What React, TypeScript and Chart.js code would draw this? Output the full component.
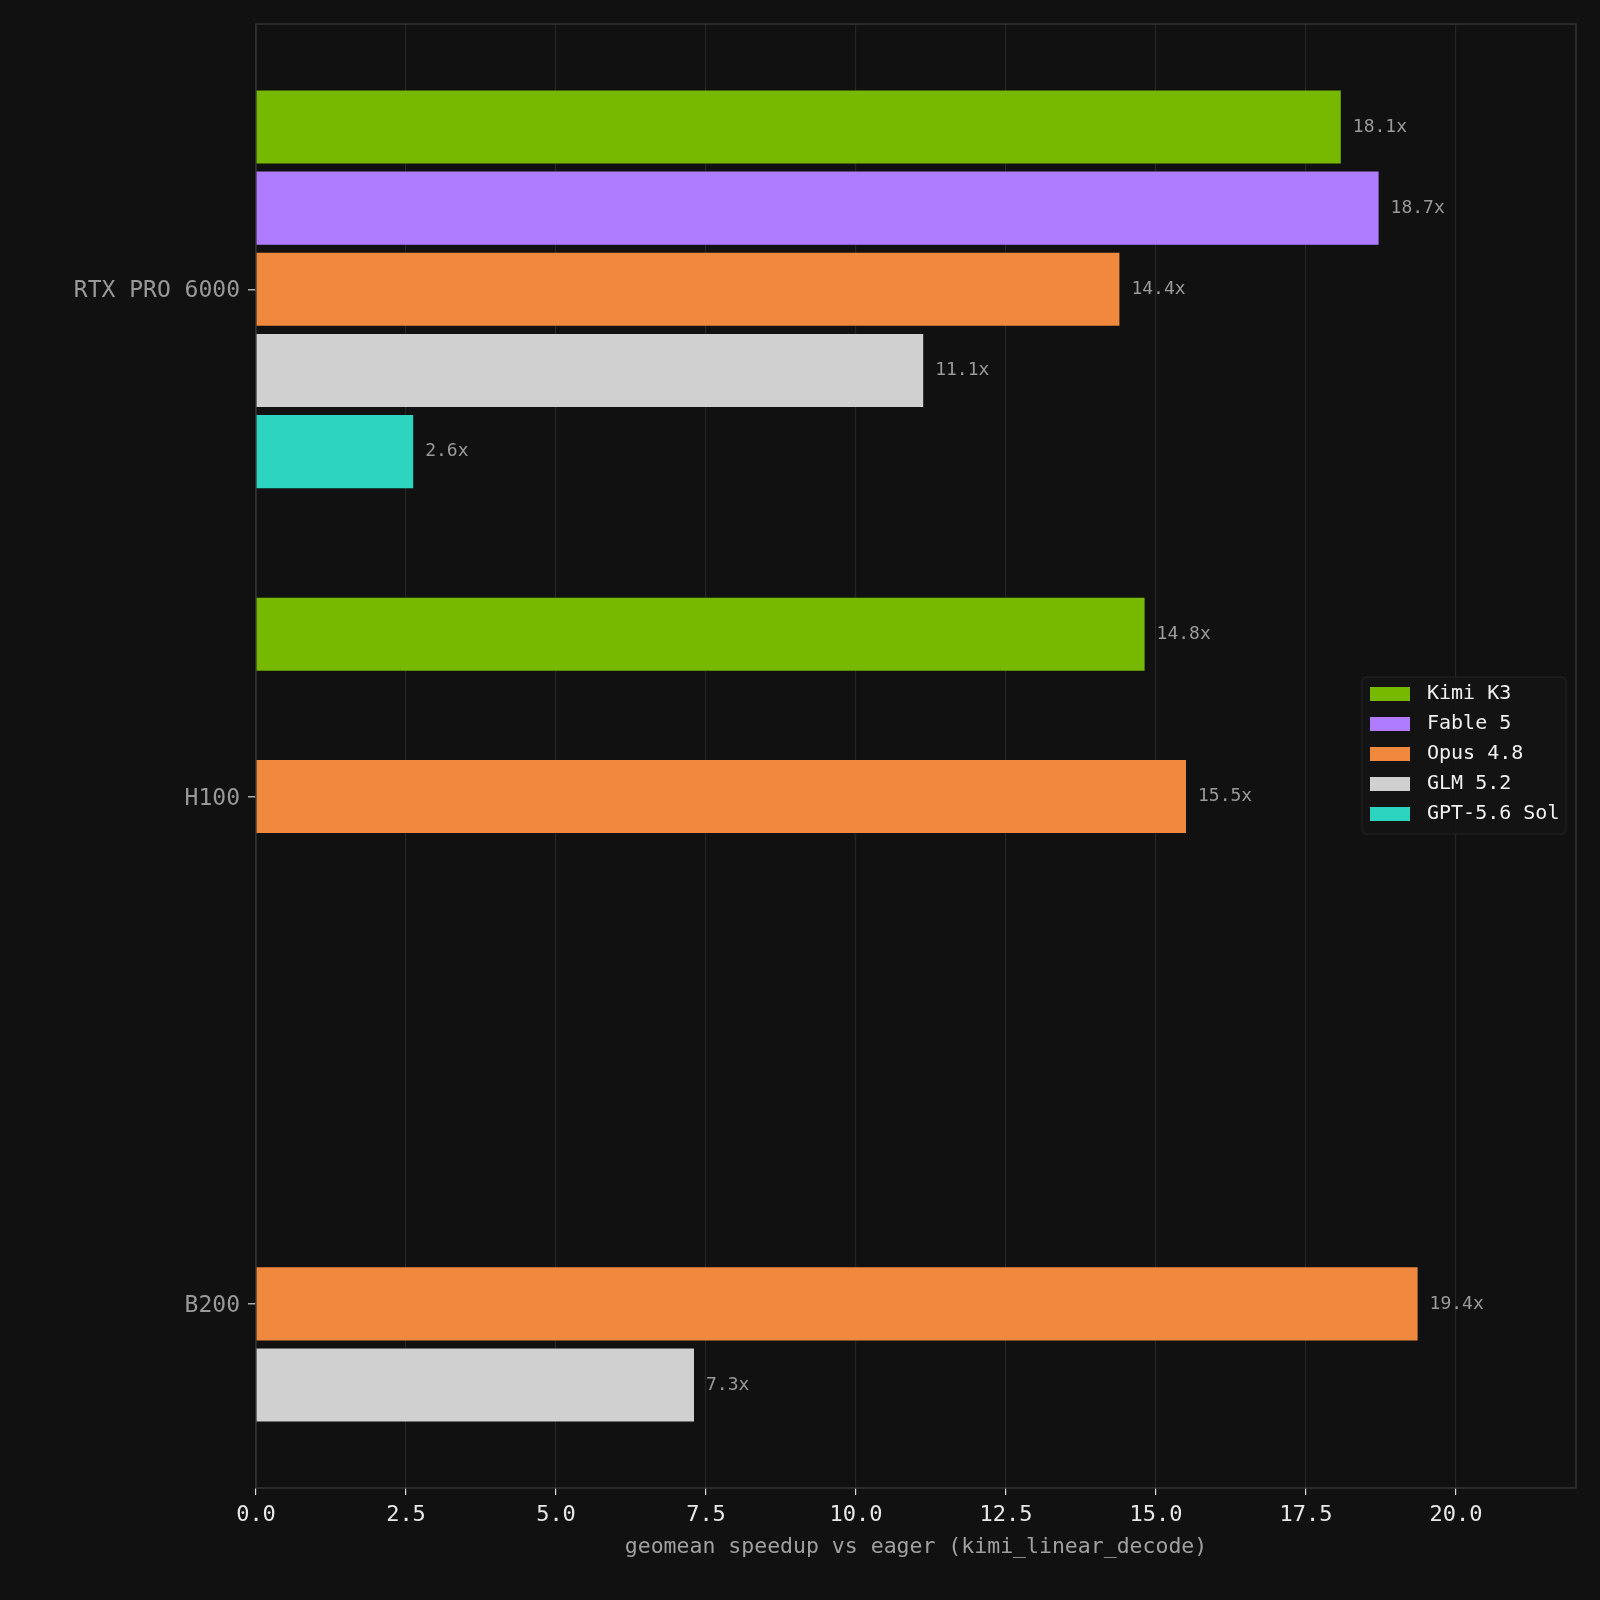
import React, { useEffect, useRef } from "react";
import { Chart, registerables } from "chart.js";

Chart.register(...registerables);

const categories = ["RTX PRO 6000", "H100", "B200"];
const seriesNames = ["Kimi K3", "Fable 5", "Opus 4.8", "GLM 5.2", "GPT-5.6 Sol"];
const seriesColors = ["#76b900", "#b07cff", "#f0893e", "#d0d0d0", "#2dd4bf"];
const kimiK3 = [18.08, 14.81, null];
const fable5 = [18.71, null, null];
const opus48 = [14.39, 15.5, 19.36];
const glm52 = [11.12, null, 7.3];
const gpt56Sol = [2.62, null, null];
const seriesValues = [kimiK3, fable5, opus48, glm52, gpt56Sol];
const xTickValues = [0, 2.5, 5, 7.5, 10, 12.5, 15, 17.5, 20];
const xAxisTitle = "geomean speedup vs eager (kimi_linear_decode)";

const FONT = "'DejaVu Sans Mono', monospace";
const BAR_STEP = 0.16;

export default function App() {
  const ref = useRef<HTMLCanvasElement | null>(null);

  useEffect(() => {
    const canvas = ref.current;
    if (!canvas) return;
    const n = seriesNames.length;
    const datasets = seriesNames.map((name, s) => {
      const offset = (s - (n - 1) / 2) * BAR_STEP;
      const data = categories
        .map((_, i) => {
          const v = seriesValues[s][i];
          return v == null ? null : { x: v, y: i + offset };
        })
        .filter((p) => p !== null);
      return {
        label: name,
        data,
        backgroundColor: seriesColors[s],
        borderWidth: 0,
        grouped: false,
        categoryPercentage: 1,
        barPercentage: 0.9,
      };
    });

    const bgPlugin = {
      id: "bg",
      beforeDraw(chart: any) {
        const ctx = chart.ctx;
        ctx.save();
        ctx.fillStyle = "#111111";
        ctx.fillRect(0, 0, chart.width, chart.height);
        ctx.restore();
      },
      beforeDatasetsDraw(chart: any) {
        const { ctx, chartArea: a } = chart;
        ctx.save();
        ctx.strokeStyle = "#333333";
        ctx.lineWidth = 1.5;
        ctx.strokeRect(a.left, a.top, a.right - a.left, a.bottom - a.top);
        ctx.restore();
      },
      afterDatasetsDraw(chart: any) {
        const ctx = chart.ctx;
        ctx.save();
        ctx.font = `18px ${FONT}`;
        ctx.fillStyle = "#9a9a9a";
        ctx.textAlign = "left";
        ctx.textBaseline = "middle";
        chart.data.datasets.forEach((ds: any, di: number) => {
          const meta = chart.getDatasetMeta(di);
          meta.data.forEach((el: any, j: number) => {
            const v = ds.data[j].x;
            ctx.fillText(v.toFixed(1) + "x", el.x + 12, el.y);
          });
        });
        ctx.restore();
      },
      afterDraw(chart: any) {
        const ctx = chart.ctx;
        const a = chart.chartArea;
        const boxW = 204;
        const rowH = 30;
        const boxH = 157;
        const x0 = a.right - 10 - boxW;
        const y0 = (a.top + a.bottom) / 2 - boxH / 2 - 0.5;
        ctx.save();
        ctx.fillStyle = "rgba(20,20,20,0.85)";
        ctx.strokeStyle = "#242424";
        ctx.lineWidth = 1;
        ctx.beginPath();
        if ((ctx as any).roundRect) (ctx as any).roundRect(x0, y0, boxW, boxH, 4);
        else ctx.rect(x0, y0, boxW, boxH);
        ctx.fill();
        ctx.stroke();
        ctx.font = `20px ${FONT}`;
        ctx.textBaseline = "middle";
        ctx.textAlign = "left";
        seriesNames.forEach((name, s) => {
          const cy = y0 + 17 + s * rowH;
          ctx.fillStyle = seriesColors[s];
          ctx.fillRect(x0 + 8, cy - 7, 40, 14);
          ctx.fillStyle = "#f0f0f0";
          ctx.fillText(name, x0 + 65, cy);
        });
        ctx.restore();
      },
    };

    const chart = new Chart(canvas, {
      type: "bar",
      data: { datasets: datasets as any },
      options: {
        indexAxis: "y",
        animation: false,
        responsive: false,
        devicePixelRatio: 1,
        layout: { padding: { top: 24, right: 24, left: 0, bottom: 0 } },
        plugins: {
          legend: { display: false },
          tooltip: { enabled: false },
        },
        scales: {
          x: {
            type: "linear",
            min: 0,
            max: 22,
            offset: false,
            afterBuildTicks(axis: any) {
              axis.ticks = xTickValues.map((v) => ({ value: v }));
            },
            afterFit(axis: any) {
              axis.height = 112;
            },
            ticks: {
              color: "#e8e8e8",
              font: { family: FONT, size: 22 },
              padding: 7,
              maxRotation: 0,
              callback: (v: any) => Number(v).toFixed(1),
            },
            grid: {
              offset: false,
              color: "#262626",
              lineWidth: 1.2,
              drawTicks: true,
              tickLength: 7,
              tickColor: "#dddddd",
            },
            border: { display: false },
            title: {
              display: true,
              text: xAxisTitle,
              color: "#a0a0a0",
              font: { family: FONT, size: 21.5 },
              padding: { top: 0, bottom: 40 },
            },
          },
          y: {
            type: "linear",
            reverse: true,
            offset: false,
            min: -0.523,
            max: 2.363,
            afterBuildTicks(axis: any) {
              axis.ticks = categories.map((_, i) => ({ value: i }));
            },
            afterFit(axis: any) {
              axis.width = 256;
            },
            ticks: {
              color: "#999999",
              font: { family: FONT, size: 23 },
              padding: 8,
              labelOffset: 2,
              callback: (v: any) => categories[Number(v)] ?? "",
            },
            grid: {
              offset: false,
              drawOnChartArea: false,
              drawTicks: true,
              tickLength: 8,
              tickColor: "#aaaaaa",
              lineWidth: 1.5,
            },
            border: { display: false },
          },
        },
      },
      plugins: [bgPlugin],
    });
    return () => chart.destroy();
  }, []);

  return (
    <div style={{ position: "absolute", left: 0, top: 0, width: 1600, height: 1600, background: "#111111" }}>
      <canvas ref={ref} width={1600} height={1600} style={{ width: 1600, height: 1600, display: "block" }} />
    </div>
  );
}
